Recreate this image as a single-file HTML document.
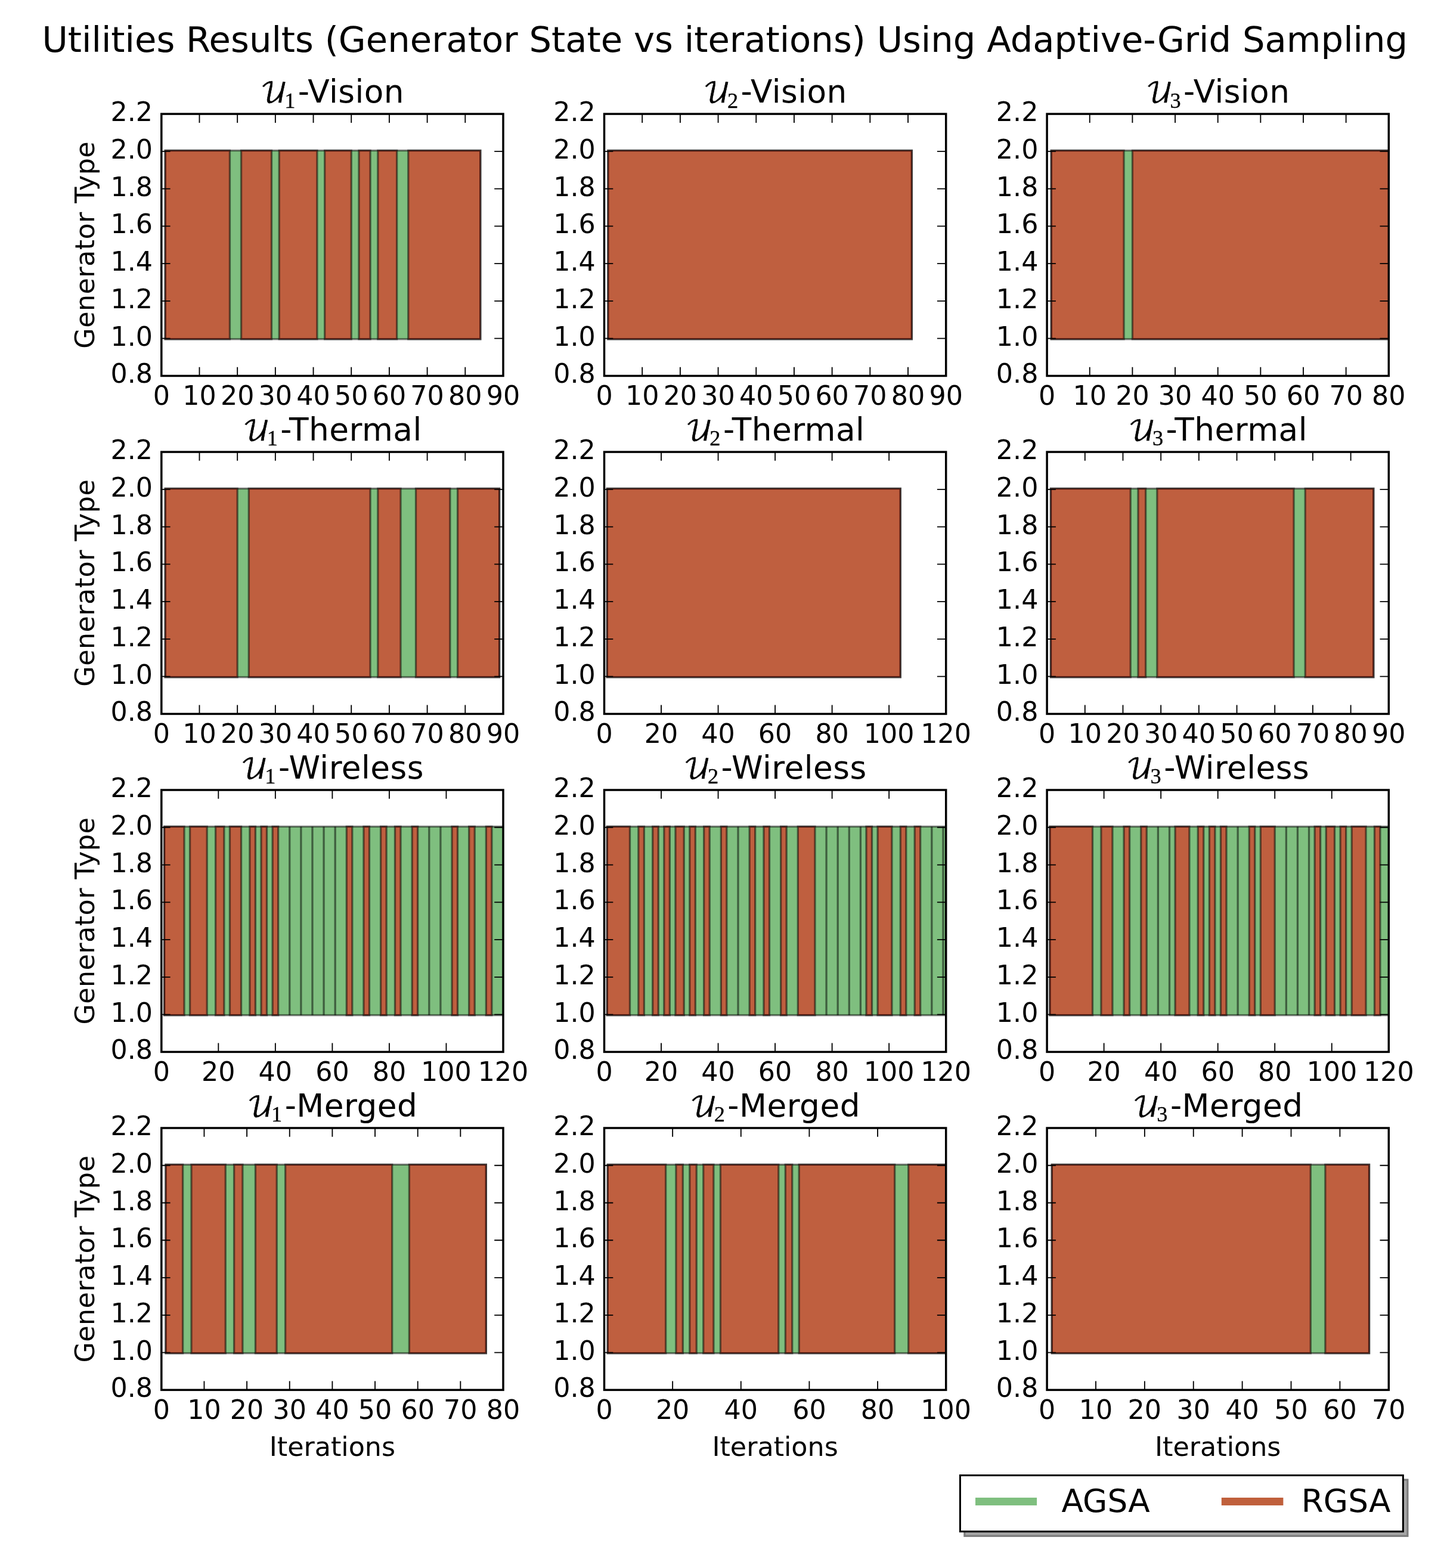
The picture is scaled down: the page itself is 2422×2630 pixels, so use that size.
<!DOCTYPE html>
<html lang="en"><head><meta charset="utf-8">
<title>Utilities Results (Generator State vs iterations) Using Adaptive-Grid Sampling</title>
<style>
html,body{margin:0;padding:0;background:#fff;}
body{width:2422px;height:2630px;overflow:hidden;}
svg{display:block;}
text{font-family:"DejaVu Sans","Liberation Sans",sans-serif;fill:#000;}
.tk{font-size:44.4px;}
.tt{font-size:53.3px;letter-spacing:0.45px;}
.xl{font-size:44.4px;text-anchor:middle;}
.yl{font-size:44.4px;text-anchor:middle;letter-spacing:0.45px;}
.yt{text-anchor:end;}
.xt{text-anchor:middle;}
.sup{font-size:59.22px;text-anchor:middle;}
.lg{font-size:53.3px;}
.cal{font-family:"DejaVu Math TeX Gyre","DejaVu Serif","Liberation Serif",serif;font-size:46px;letter-spacing:0;stroke:#000;stroke-width:.6px;}
.sub{font-family:"Liberation Serif","DejaVu Serif",serif;font-size:36.3px;letter-spacing:0;stroke:#000;stroke-width:.35px;}
.g{fill:#008000;fill-opacity:.5;stroke:#000;stroke-opacity:.5;stroke-width:3.3;stroke-linejoin:miter;}
.r{fill:#ff0000;fill-opacity:.5;stroke:#000;stroke-opacity:.5;stroke-width:3.3;stroke-linejoin:miter;}
.ax{fill:none;stroke:#000;stroke-width:3.5;}
.ti{stroke:#000;stroke-width:1.85;fill:none;}
</style></head><body>
<svg width="2422" height="2630" viewBox="0 0 2422 2630">
<rect x="0" y="0" width="2422" height="2630" fill="#fff"/>
<text class="sup" x="1215.8" y="86.5">Utilities Results (Generator State vs iterations) Using Adaptive-Grid Sampling</text>
<g id="ax0">
<clipPath id="c0"><rect x="270.8" y="191.1" width="573.2" height="439.35"/></clipPath>
<g clip-path="url(#c0)">
<rect class="g" x="277.17" y="252.5" width="528.62" height="316.32"/>
<rect class="r" x="277.17" y="252.5" width="108.27" height="316.32"/>
<rect class="r" x="404.55" y="252.5" width="50.95" height="316.32"/>
<rect class="r" x="468.24" y="252.5" width="63.69" height="316.32"/>
<rect class="r" x="544.66" y="252.5" width="44.58" height="316.32"/>
<rect class="r" x="601.98" y="252.5" width="19.11" height="316.32"/>
<rect class="r" x="633.83" y="252.5" width="31.84" height="316.32"/>
<rect class="r" x="684.78" y="252.5" width="121.01" height="316.32"/>
</g>
<path class="ti" d="M334.49 630.45v-14.8M334.49 191.1v14.8M398.18 630.45v-14.8M398.18 191.1v14.8M461.87 630.45v-14.8M461.87 191.1v14.8M525.56 630.45v-14.8M525.56 191.1v14.8M589.24 630.45v-14.8M589.24 191.1v14.8M652.93 630.45v-14.8M652.93 191.1v14.8M716.62 630.45v-14.8M716.62 191.1v14.8M780.31 630.45v-14.8M780.31 191.1v14.8M270.8 567.69h14.8M844 567.69h-14.8M270.8 504.92h14.8M844 504.92h-14.8M270.8 442.16h14.8M844 442.16h-14.8M270.8 379.39h14.8M844 379.39h-14.8M270.8 316.63h14.8M844 316.63h-14.8M270.8 253.86h14.8M844 253.86h-14.8"/>
<rect class="ax" x="270.8" y="191.1" width="573.2" height="439.35"/>
<text class="tk xt" x="270.8" y="679.2">0</text>
<text class="tk xt" x="334.49" y="679.2">10</text>
<text class="tk xt" x="398.18" y="679.2">20</text>
<text class="tk xt" x="461.87" y="679.2">30</text>
<text class="tk xt" x="525.56" y="679.2">40</text>
<text class="tk xt" x="589.24" y="679.2">50</text>
<text class="tk xt" x="652.93" y="679.2">60</text>
<text class="tk xt" x="716.62" y="679.2">70</text>
<text class="tk xt" x="780.31" y="679.2">80</text>
<text class="tk xt" x="844" y="679.2">90</text>
<text class="tk yt" x="256.1" y="642.45">0.8</text>
<text class="tk yt" x="256.1" y="579.69">1.0</text>
<text class="tk yt" x="256.1" y="516.92">1.2</text>
<text class="tk yt" x="256.1" y="454.16">1.4</text>
<text class="tk yt" x="256.1" y="391.39">1.6</text>
<text class="tk yt" x="256.1" y="328.63">1.8</text>
<text class="tk yt" x="256.1" y="265.86">2.0</text>
<text class="tk yt" x="256.1" y="203.1">2.2</text>
<text class="tt" y="171.9"><tspan class="cal" x="436.69">𝒰</tspan><tspan class="sub" x="477.19" y="180.5">1</tspan><tspan x="499.79" y="171.9">-Vision</tspan></text>
<text class="yl" transform="translate(157.8 410.78) rotate(-90)">Generator Type</text>
</g>
<g id="ax1">
<clipPath id="c1"><rect x="1013.5" y="191.1" width="573.2" height="439.35"/></clipPath>
<g clip-path="url(#c1)">
<rect class="g" x="1019.87" y="252.5" width="509.51" height="316.32"/>
<rect class="r" x="1019.87" y="252.5" width="509.51" height="316.32"/>
</g>
<path class="ti" d="M1077.19 630.45v-14.8M1077.19 191.1v14.8M1140.88 630.45v-14.8M1140.88 191.1v14.8M1204.57 630.45v-14.8M1204.57 191.1v14.8M1268.26 630.45v-14.8M1268.26 191.1v14.8M1331.94 630.45v-14.8M1331.94 191.1v14.8M1395.63 630.45v-14.8M1395.63 191.1v14.8M1459.32 630.45v-14.8M1459.32 191.1v14.8M1523.01 630.45v-14.8M1523.01 191.1v14.8M1013.5 567.69h14.8M1586.7 567.69h-14.8M1013.5 504.92h14.8M1586.7 504.92h-14.8M1013.5 442.16h14.8M1586.7 442.16h-14.8M1013.5 379.39h14.8M1586.7 379.39h-14.8M1013.5 316.63h14.8M1586.7 316.63h-14.8M1013.5 253.86h14.8M1586.7 253.86h-14.8"/>
<rect class="ax" x="1013.5" y="191.1" width="573.2" height="439.35"/>
<text class="tk xt" x="1013.5" y="679.2">0</text>
<text class="tk xt" x="1077.19" y="679.2">10</text>
<text class="tk xt" x="1140.88" y="679.2">20</text>
<text class="tk xt" x="1204.57" y="679.2">30</text>
<text class="tk xt" x="1268.26" y="679.2">40</text>
<text class="tk xt" x="1331.94" y="679.2">50</text>
<text class="tk xt" x="1395.63" y="679.2">60</text>
<text class="tk xt" x="1459.32" y="679.2">70</text>
<text class="tk xt" x="1523.01" y="679.2">80</text>
<text class="tk xt" x="1586.7" y="679.2">90</text>
<text class="tk yt" x="998.8" y="642.45">0.8</text>
<text class="tk yt" x="998.8" y="579.69">1.0</text>
<text class="tk yt" x="998.8" y="516.92">1.2</text>
<text class="tk yt" x="998.8" y="454.16">1.4</text>
<text class="tk yt" x="998.8" y="391.39">1.6</text>
<text class="tk yt" x="998.8" y="328.63">1.8</text>
<text class="tk yt" x="998.8" y="265.86">2.0</text>
<text class="tk yt" x="998.8" y="203.1">2.2</text>
<text class="tt" y="171.9"><tspan class="cal" x="1179.39">𝒰</tspan><tspan class="sub" x="1219.89" y="180.5">2</tspan><tspan x="1242.49" y="171.9">-Vision</tspan></text>
</g>
<g id="ax2">
<clipPath id="c2"><rect x="1756.1" y="191.1" width="573.2" height="439.35"/></clipPath>
<g clip-path="url(#c2)">
<rect class="g" x="1763.26" y="252.5" width="709.34" height="316.32"/>
<rect class="r" x="1763.26" y="252.5" width="121.81" height="316.32"/>
<rect class="r" x="1899.4" y="252.5" width="573.2" height="316.32"/>
</g>
<path class="ti" d="M1827.75 630.45v-14.8M1827.75 191.1v14.8M1899.4 630.45v-14.8M1899.4 191.1v14.8M1971.05 630.45v-14.8M1971.05 191.1v14.8M2042.7 630.45v-14.8M2042.7 191.1v14.8M2114.35 630.45v-14.8M2114.35 191.1v14.8M2186 630.45v-14.8M2186 191.1v14.8M2257.65 630.45v-14.8M2257.65 191.1v14.8M1756.1 567.69h14.8M2329.3 567.69h-14.8M1756.1 504.92h14.8M2329.3 504.92h-14.8M1756.1 442.16h14.8M2329.3 442.16h-14.8M1756.1 379.39h14.8M2329.3 379.39h-14.8M1756.1 316.63h14.8M2329.3 316.63h-14.8M1756.1 253.86h14.8M2329.3 253.86h-14.8"/>
<rect class="ax" x="1756.1" y="191.1" width="573.2" height="439.35"/>
<text class="tk xt" x="1756.1" y="679.2">0</text>
<text class="tk xt" x="1827.75" y="679.2">10</text>
<text class="tk xt" x="1899.4" y="679.2">20</text>
<text class="tk xt" x="1971.05" y="679.2">30</text>
<text class="tk xt" x="2042.7" y="679.2">40</text>
<text class="tk xt" x="2114.35" y="679.2">50</text>
<text class="tk xt" x="2186" y="679.2">60</text>
<text class="tk xt" x="2257.65" y="679.2">70</text>
<text class="tk xt" x="2329.3" y="679.2">80</text>
<text class="tk yt" x="1741.4" y="642.45">0.8</text>
<text class="tk yt" x="1741.4" y="579.69">1.0</text>
<text class="tk yt" x="1741.4" y="516.92">1.2</text>
<text class="tk yt" x="1741.4" y="454.16">1.4</text>
<text class="tk yt" x="1741.4" y="391.39">1.6</text>
<text class="tk yt" x="1741.4" y="328.63">1.8</text>
<text class="tk yt" x="1741.4" y="265.86">2.0</text>
<text class="tk yt" x="1741.4" y="203.1">2.2</text>
<text class="tt" y="171.9"><tspan class="cal" x="1921.99">𝒰</tspan><tspan class="sub" x="1962.49" y="180.5">3</tspan><tspan x="1985.09" y="171.9">-Vision</tspan></text>
</g>
<g id="ax3">
<clipPath id="c3"><rect x="270.8" y="758.07" width="573.2" height="439.35"/></clipPath>
<g clip-path="url(#c3)">
<rect class="g" x="277.17" y="819.47" width="560.46" height="316.32"/>
<rect class="r" x="277.17" y="819.47" width="121.01" height="316.32"/>
<rect class="r" x="417.28" y="819.47" width="203.8" height="316.32"/>
<rect class="r" x="633.83" y="819.47" width="38.21" height="316.32"/>
<rect class="r" x="697.52" y="819.47" width="57.32" height="316.32"/>
<rect class="r" x="767.57" y="819.47" width="70.06" height="316.32"/>
</g>
<path class="ti" d="M334.49 1197.42v-14.8M334.49 758.07v14.8M398.18 1197.42v-14.8M398.18 758.07v14.8M461.87 1197.42v-14.8M461.87 758.07v14.8M525.56 1197.42v-14.8M525.56 758.07v14.8M589.24 1197.42v-14.8M589.24 758.07v14.8M652.93 1197.42v-14.8M652.93 758.07v14.8M716.62 1197.42v-14.8M716.62 758.07v14.8M780.31 1197.42v-14.8M780.31 758.07v14.8M270.8 1134.66h14.8M844 1134.66h-14.8M270.8 1071.89h14.8M844 1071.89h-14.8M270.8 1009.13h14.8M844 1009.13h-14.8M270.8 946.36h14.8M844 946.36h-14.8M270.8 883.6h14.8M844 883.6h-14.8M270.8 820.83h14.8M844 820.83h-14.8"/>
<rect class="ax" x="270.8" y="758.07" width="573.2" height="439.35"/>
<text class="tk xt" x="270.8" y="1246.17">0</text>
<text class="tk xt" x="334.49" y="1246.17">10</text>
<text class="tk xt" x="398.18" y="1246.17">20</text>
<text class="tk xt" x="461.87" y="1246.17">30</text>
<text class="tk xt" x="525.56" y="1246.17">40</text>
<text class="tk xt" x="589.24" y="1246.17">50</text>
<text class="tk xt" x="652.93" y="1246.17">60</text>
<text class="tk xt" x="716.62" y="1246.17">70</text>
<text class="tk xt" x="780.31" y="1246.17">80</text>
<text class="tk xt" x="844" y="1246.17">90</text>
<text class="tk yt" x="256.1" y="1209.42">0.8</text>
<text class="tk yt" x="256.1" y="1146.66">1.0</text>
<text class="tk yt" x="256.1" y="1083.89">1.2</text>
<text class="tk yt" x="256.1" y="1021.13">1.4</text>
<text class="tk yt" x="256.1" y="958.36">1.6</text>
<text class="tk yt" x="256.1" y="895.6">1.8</text>
<text class="tk yt" x="256.1" y="832.83">2.0</text>
<text class="tk yt" x="256.1" y="770.07">2.2</text>
<text class="tt" y="738.87"><tspan class="cal" x="407.13">𝒰</tspan><tspan class="sub" x="447.63" y="747.47">1</tspan><tspan x="470.23" y="738.87">-Thermal</tspan></text>
<text class="yl" transform="translate(157.8 977.75) rotate(-90)">Generator Type</text>
</g>
<g id="ax4">
<clipPath id="c4"><rect x="1013.5" y="758.07" width="573.2" height="439.35"/></clipPath>
<g clip-path="url(#c4)">
<rect class="g" x="1018.28" y="819.47" width="492" height="316.32"/>
<rect class="r" x="1018.28" y="819.47" width="492" height="316.32"/>
</g>
<path class="ti" d="M1109.03 1197.42v-14.8M1109.03 758.07v14.8M1204.57 1197.42v-14.8M1204.57 758.07v14.8M1300.1 1197.42v-14.8M1300.1 758.07v14.8M1395.63 1197.42v-14.8M1395.63 758.07v14.8M1491.17 1197.42v-14.8M1491.17 758.07v14.8M1013.5 1134.66h14.8M1586.7 1134.66h-14.8M1013.5 1071.89h14.8M1586.7 1071.89h-14.8M1013.5 1009.13h14.8M1586.7 1009.13h-14.8M1013.5 946.36h14.8M1586.7 946.36h-14.8M1013.5 883.6h14.8M1586.7 883.6h-14.8M1013.5 820.83h14.8M1586.7 820.83h-14.8"/>
<rect class="ax" x="1013.5" y="758.07" width="573.2" height="439.35"/>
<text class="tk xt" x="1013.5" y="1246.17">0</text>
<text class="tk xt" x="1109.03" y="1246.17">20</text>
<text class="tk xt" x="1204.57" y="1246.17">40</text>
<text class="tk xt" x="1300.1" y="1246.17">60</text>
<text class="tk xt" x="1395.63" y="1246.17">80</text>
<text class="tk xt" x="1491.17" y="1246.17">100</text>
<text class="tk xt" x="1586.7" y="1246.17">120</text>
<text class="tk yt" x="998.8" y="1209.42">0.8</text>
<text class="tk yt" x="998.8" y="1146.66">1.0</text>
<text class="tk yt" x="998.8" y="1083.89">1.2</text>
<text class="tk yt" x="998.8" y="1021.13">1.4</text>
<text class="tk yt" x="998.8" y="958.36">1.6</text>
<text class="tk yt" x="998.8" y="895.6">1.8</text>
<text class="tk yt" x="998.8" y="832.83">2.0</text>
<text class="tk yt" x="998.8" y="770.07">2.2</text>
<text class="tt" y="738.87"><tspan class="cal" x="1149.83">𝒰</tspan><tspan class="sub" x="1190.33" y="747.47">2</tspan><tspan x="1212.93" y="738.87">-Thermal</tspan></text>
</g>
<g id="ax5">
<clipPath id="c5"><rect x="1756.1" y="758.07" width="573.2" height="439.35"/></clipPath>
<g clip-path="url(#c5)">
<rect class="g" x="1762.47" y="819.47" width="541.36" height="316.32"/>
<rect class="r" x="1762.47" y="819.47" width="133.75" height="316.32"/>
<rect class="r" x="1908.95" y="819.47" width="12.74" height="316.32"/>
<rect class="r" x="1940.8" y="819.47" width="229.28" height="316.32"/>
<rect class="r" x="2189.18" y="819.47" width="114.64" height="316.32"/>
</g>
<path class="ti" d="M1819.79 1197.42v-14.8M1819.79 758.07v14.8M1883.48 1197.42v-14.8M1883.48 758.07v14.8M1947.17 1197.42v-14.8M1947.17 758.07v14.8M2010.86 1197.42v-14.8M2010.86 758.07v14.8M2074.54 1197.42v-14.8M2074.54 758.07v14.8M2138.23 1197.42v-14.8M2138.23 758.07v14.8M2201.92 1197.42v-14.8M2201.92 758.07v14.8M2265.61 1197.42v-14.8M2265.61 758.07v14.8M1756.1 1134.66h14.8M2329.3 1134.66h-14.8M1756.1 1071.89h14.8M2329.3 1071.89h-14.8M1756.1 1009.13h14.8M2329.3 1009.13h-14.8M1756.1 946.36h14.8M2329.3 946.36h-14.8M1756.1 883.6h14.8M2329.3 883.6h-14.8M1756.1 820.83h14.8M2329.3 820.83h-14.8"/>
<rect class="ax" x="1756.1" y="758.07" width="573.2" height="439.35"/>
<text class="tk xt" x="1756.1" y="1246.17">0</text>
<text class="tk xt" x="1819.79" y="1246.17">10</text>
<text class="tk xt" x="1883.48" y="1246.17">20</text>
<text class="tk xt" x="1947.17" y="1246.17">30</text>
<text class="tk xt" x="2010.86" y="1246.17">40</text>
<text class="tk xt" x="2074.54" y="1246.17">50</text>
<text class="tk xt" x="2138.23" y="1246.17">60</text>
<text class="tk xt" x="2201.92" y="1246.17">70</text>
<text class="tk xt" x="2265.61" y="1246.17">80</text>
<text class="tk xt" x="2329.3" y="1246.17">90</text>
<text class="tk yt" x="1741.4" y="1209.42">0.8</text>
<text class="tk yt" x="1741.4" y="1146.66">1.0</text>
<text class="tk yt" x="1741.4" y="1083.89">1.2</text>
<text class="tk yt" x="1741.4" y="1021.13">1.4</text>
<text class="tk yt" x="1741.4" y="958.36">1.6</text>
<text class="tk yt" x="1741.4" y="895.6">1.8</text>
<text class="tk yt" x="1741.4" y="832.83">2.0</text>
<text class="tk yt" x="1741.4" y="770.07">2.2</text>
<text class="tt" y="738.87"><tspan class="cal" x="1892.43">𝒰</tspan><tspan class="sub" x="1932.93" y="747.47">3</tspan><tspan x="1955.53" y="738.87">-Thermal</tspan></text>
</g>
<g id="ax6">
<clipPath id="c6"><rect x="270.8" y="1325.03" width="573.2" height="439.35"/></clipPath>
<g clip-path="url(#c6)">
<rect class="g" x="275.58" y="1386.43" width="663.96" height="316.32"/>
<rect class="r" x="275.58" y="1386.43" width="33.44" height="316.32"/>
<rect class="r" x="318.57" y="1386.43" width="28.66" height="316.32"/>
<rect class="r" x="361.56" y="1386.43" width="14.33" height="316.32"/>
<rect class="r" x="385.44" y="1386.43" width="19.11" height="316.32"/>
<rect class="r" x="418.88" y="1386.43" width="9.55" height="316.32"/>
<rect class="r" x="437.98" y="1386.43" width="9.55" height="316.32"/>
<rect class="r" x="457.09" y="1386.43" width="9.55" height="316.32"/>
<path class="r" d="M485.75 1386.43V1702.76"/>
<path class="r" d="M504.86 1386.43V1702.76"/>
<path class="r" d="M523.96 1386.43V1702.76"/>
<path class="r" d="M543.07 1386.43V1702.76"/>
<path class="r" d="M562.18 1386.43V1702.76"/>
<rect class="r" x="581.28" y="1386.43" width="9.55" height="316.32"/>
<rect class="r" x="609.94" y="1386.43" width="9.55" height="316.32"/>
<rect class="r" x="638.6" y="1386.43" width="9.55" height="316.32"/>
<rect class="r" x="662.49" y="1386.43" width="9.55" height="316.32"/>
<rect class="r" x="691.15" y="1386.43" width="9.55" height="316.32"/>
<path class="r" d="M719.81 1386.43V1702.76"/>
<path class="r" d="M738.91 1386.43V1702.76"/>
<rect class="r" x="758.02" y="1386.43" width="9.55" height="316.32"/>
<rect class="r" x="786.68" y="1386.43" width="9.55" height="316.32"/>
<rect class="r" x="815.34" y="1386.43" width="9.55" height="316.32"/>
</g>
<path class="ti" d="M366.33 1764.38v-14.8M366.33 1325.03v14.8M461.87 1764.38v-14.8M461.87 1325.03v14.8M557.4 1764.38v-14.8M557.4 1325.03v14.8M652.93 1764.38v-14.8M652.93 1325.03v14.8M748.47 1764.38v-14.8M748.47 1325.03v14.8M270.8 1701.62h14.8M844 1701.62h-14.8M270.8 1638.85h14.8M844 1638.85h-14.8M270.8 1576.09h14.8M844 1576.09h-14.8M270.8 1513.32h14.8M844 1513.32h-14.8M270.8 1450.56h14.8M844 1450.56h-14.8M270.8 1387.79h14.8M844 1387.79h-14.8"/>
<rect class="ax" x="270.8" y="1325.03" width="573.2" height="439.35"/>
<text class="tk xt" x="270.8" y="1813.13">0</text>
<text class="tk xt" x="366.33" y="1813.13">20</text>
<text class="tk xt" x="461.87" y="1813.13">40</text>
<text class="tk xt" x="557.4" y="1813.13">60</text>
<text class="tk xt" x="652.93" y="1813.13">80</text>
<text class="tk xt" x="748.47" y="1813.13">100</text>
<text class="tk xt" x="844" y="1813.13">120</text>
<text class="tk yt" x="256.1" y="1776.38">0.8</text>
<text class="tk yt" x="256.1" y="1713.62">1.0</text>
<text class="tk yt" x="256.1" y="1650.85">1.2</text>
<text class="tk yt" x="256.1" y="1588.09">1.4</text>
<text class="tk yt" x="256.1" y="1525.32">1.6</text>
<text class="tk yt" x="256.1" y="1462.56">1.8</text>
<text class="tk yt" x="256.1" y="1399.79">2.0</text>
<text class="tk yt" x="256.1" y="1337.03">2.2</text>
<text class="tt" y="1305.83"><tspan class="cal" x="403.78">𝒰</tspan><tspan class="sub" x="444.28" y="1314.43">1</tspan><tspan x="466.88" y="1305.83">-Wireless</tspan></text>
<text class="yl" transform="translate(157.8 1544.7) rotate(-90)">Generator Type</text>
</g>
<g id="ax7">
<clipPath id="c7"><rect x="1013.5" y="1325.03" width="573.2" height="439.35"/></clipPath>
<g clip-path="url(#c7)">
<rect class="g" x="1018.28" y="1386.43" width="663.96" height="316.32"/>
<rect class="r" x="1018.28" y="1386.43" width="38.21" height="316.32"/>
<rect class="r" x="1070.82" y="1386.43" width="9.55" height="316.32"/>
<rect class="r" x="1094.7" y="1386.43" width="9.55" height="316.32"/>
<rect class="r" x="1113.81" y="1386.43" width="9.55" height="316.32"/>
<rect class="r" x="1132.92" y="1386.43" width="14.33" height="316.32"/>
<rect class="r" x="1156.8" y="1386.43" width="9.55" height="316.32"/>
<rect class="r" x="1180.68" y="1386.43" width="9.55" height="316.32"/>
<rect class="r" x="1209.34" y="1386.43" width="9.55" height="316.32"/>
<path class="r" d="M1238 1386.43V1702.76"/>
<rect class="r" x="1257.11" y="1386.43" width="9.55" height="316.32"/>
<rect class="r" x="1280.99" y="1386.43" width="9.55" height="316.32"/>
<rect class="r" x="1309.65" y="1386.43" width="9.55" height="316.32"/>
<rect class="r" x="1338.31" y="1386.43" width="28.66" height="316.32"/>
<path class="r" d="M1386.08 1386.43V1702.76"/>
<path class="r" d="M1405.19 1386.43V1702.76"/>
<path class="r" d="M1424.29 1386.43V1702.76"/>
<path class="r" d="M1443.4 1386.43V1702.76"/>
<rect class="r" x="1452.95" y="1386.43" width="9.55" height="316.32"/>
<rect class="r" x="1472.06" y="1386.43" width="23.88" height="316.32"/>
<rect class="r" x="1510.27" y="1386.43" width="9.55" height="316.32"/>
<rect class="r" x="1534.16" y="1386.43" width="9.55" height="316.32"/>
<path class="r" d="M1562.82 1386.43V1702.76"/>
<path class="r" d="M1581.92 1386.43V1702.76"/>
</g>
<path class="ti" d="M1109.03 1764.38v-14.8M1109.03 1325.03v14.8M1204.57 1764.38v-14.8M1204.57 1325.03v14.8M1300.1 1764.38v-14.8M1300.1 1325.03v14.8M1395.63 1764.38v-14.8M1395.63 1325.03v14.8M1491.17 1764.38v-14.8M1491.17 1325.03v14.8M1013.5 1701.62h14.8M1586.7 1701.62h-14.8M1013.5 1638.85h14.8M1586.7 1638.85h-14.8M1013.5 1576.09h14.8M1586.7 1576.09h-14.8M1013.5 1513.32h14.8M1586.7 1513.32h-14.8M1013.5 1450.56h14.8M1586.7 1450.56h-14.8M1013.5 1387.79h14.8M1586.7 1387.79h-14.8"/>
<rect class="ax" x="1013.5" y="1325.03" width="573.2" height="439.35"/>
<text class="tk xt" x="1013.5" y="1813.13">0</text>
<text class="tk xt" x="1109.03" y="1813.13">20</text>
<text class="tk xt" x="1204.57" y="1813.13">40</text>
<text class="tk xt" x="1300.1" y="1813.13">60</text>
<text class="tk xt" x="1395.63" y="1813.13">80</text>
<text class="tk xt" x="1491.17" y="1813.13">100</text>
<text class="tk xt" x="1586.7" y="1813.13">120</text>
<text class="tk yt" x="998.8" y="1776.38">0.8</text>
<text class="tk yt" x="998.8" y="1713.62">1.0</text>
<text class="tk yt" x="998.8" y="1650.85">1.2</text>
<text class="tk yt" x="998.8" y="1588.09">1.4</text>
<text class="tk yt" x="998.8" y="1525.32">1.6</text>
<text class="tk yt" x="998.8" y="1462.56">1.8</text>
<text class="tk yt" x="998.8" y="1399.79">2.0</text>
<text class="tk yt" x="998.8" y="1337.03">2.2</text>
<text class="tt" y="1305.83"><tspan class="cal" x="1146.48">𝒰</tspan><tspan class="sub" x="1186.98" y="1314.43">2</tspan><tspan x="1209.58" y="1305.83">-Wireless</tspan></text>
</g>
<g id="ax8">
<clipPath id="c8"><rect x="1756.1" y="1325.03" width="573.2" height="439.35"/></clipPath>
<g clip-path="url(#c8)">
<rect class="g" x="1760.88" y="1386.43" width="663.96" height="316.32"/>
<rect class="r" x="1760.88" y="1386.43" width="71.65" height="316.32"/>
<rect class="r" x="1846.86" y="1386.43" width="19.11" height="316.32"/>
<rect class="r" x="1885.07" y="1386.43" width="9.55" height="316.32"/>
<rect class="r" x="1913.73" y="1386.43" width="9.55" height="316.32"/>
<path class="r" d="M1942.39 1386.43V1702.76"/>
<path class="r" d="M1961.5 1386.43V1702.76"/>
<rect class="r" x="1971.05" y="1386.43" width="23.88" height="316.32"/>
<rect class="r" x="2009.26" y="1386.43" width="9.55" height="316.32"/>
<rect class="r" x="2028.37" y="1386.43" width="9.55" height="316.32"/>
<rect class="r" x="2047.48" y="1386.43" width="9.55" height="316.32"/>
<path class="r" d="M2076.14 1386.43V1702.76"/>
<rect class="r" x="2095.24" y="1386.43" width="9.55" height="316.32"/>
<rect class="r" x="2114.35" y="1386.43" width="23.88" height="316.32"/>
<path class="r" d="M2157.34 1386.43V1702.76"/>
<path class="r" d="M2176.45 1386.43V1702.76"/>
<path class="r" d="M2195.55 1386.43V1702.76"/>
<rect class="r" x="2205.11" y="1386.43" width="9.55" height="316.32"/>
<rect class="r" x="2224.21" y="1386.43" width="14.33" height="316.32"/>
<rect class="r" x="2248.1" y="1386.43" width="9.55" height="316.32"/>
<rect class="r" x="2267.2" y="1386.43" width="23.88" height="316.32"/>
<rect class="r" x="2305.42" y="1386.43" width="9.55" height="316.32"/>
</g>
<path class="ti" d="M1851.63 1764.38v-14.8M1851.63 1325.03v14.8M1947.17 1764.38v-14.8M1947.17 1325.03v14.8M2042.7 1764.38v-14.8M2042.7 1325.03v14.8M2138.23 1764.38v-14.8M2138.23 1325.03v14.8M2233.77 1764.38v-14.8M2233.77 1325.03v14.8M1756.1 1701.62h14.8M2329.3 1701.62h-14.8M1756.1 1638.85h14.8M2329.3 1638.85h-14.8M1756.1 1576.09h14.8M2329.3 1576.09h-14.8M1756.1 1513.32h14.8M2329.3 1513.32h-14.8M1756.1 1450.56h14.8M2329.3 1450.56h-14.8M1756.1 1387.79h14.8M2329.3 1387.79h-14.8"/>
<rect class="ax" x="1756.1" y="1325.03" width="573.2" height="439.35"/>
<text class="tk xt" x="1756.1" y="1813.13">0</text>
<text class="tk xt" x="1851.63" y="1813.13">20</text>
<text class="tk xt" x="1947.17" y="1813.13">40</text>
<text class="tk xt" x="2042.7" y="1813.13">60</text>
<text class="tk xt" x="2138.23" y="1813.13">80</text>
<text class="tk xt" x="2233.77" y="1813.13">100</text>
<text class="tk xt" x="2329.3" y="1813.13">120</text>
<text class="tk yt" x="1741.4" y="1776.38">0.8</text>
<text class="tk yt" x="1741.4" y="1713.62">1.0</text>
<text class="tk yt" x="1741.4" y="1650.85">1.2</text>
<text class="tk yt" x="1741.4" y="1588.09">1.4</text>
<text class="tk yt" x="1741.4" y="1525.32">1.6</text>
<text class="tk yt" x="1741.4" y="1462.56">1.8</text>
<text class="tk yt" x="1741.4" y="1399.79">2.0</text>
<text class="tk yt" x="1741.4" y="1337.03">2.2</text>
<text class="tt" y="1305.83"><tspan class="cal" x="1889.08">𝒰</tspan><tspan class="sub" x="1929.58" y="1314.43">3</tspan><tspan x="1952.18" y="1305.83">-Wireless</tspan></text>
</g>
<g id="ax9">
<clipPath id="c9"><rect x="270.8" y="1892" width="573.2" height="439.35"/></clipPath>
<g clip-path="url(#c9)">
<rect class="g" x="277.97" y="1953.4" width="537.38" height="316.32"/>
<rect class="r" x="277.97" y="1953.4" width="28.66" height="316.32"/>
<rect class="r" x="320.96" y="1953.4" width="57.32" height="316.32"/>
<rect class="r" x="392.61" y="1953.4" width="14.33" height="316.32"/>
<rect class="r" x="428.43" y="1953.4" width="35.82" height="316.32"/>
<rect class="r" x="478.59" y="1953.4" width="179.12" height="316.32"/>
<rect class="r" x="686.37" y="1953.4" width="128.97" height="316.32"/>
</g>
<path class="ti" d="M342.45 2331.35v-14.8M342.45 1892v14.8M414.1 2331.35v-14.8M414.1 1892v14.8M485.75 2331.35v-14.8M485.75 1892v14.8M557.4 2331.35v-14.8M557.4 1892v14.8M629.05 2331.35v-14.8M629.05 1892v14.8M700.7 2331.35v-14.8M700.7 1892v14.8M772.35 2331.35v-14.8M772.35 1892v14.8M270.8 2268.59h14.8M844 2268.59h-14.8M270.8 2205.82h14.8M844 2205.82h-14.8M270.8 2143.06h14.8M844 2143.06h-14.8M270.8 2080.29h14.8M844 2080.29h-14.8M270.8 2017.53h14.8M844 2017.53h-14.8M270.8 1954.76h14.8M844 1954.76h-14.8"/>
<rect class="ax" x="270.8" y="1892" width="573.2" height="439.35"/>
<text class="tk xt" x="270.8" y="2380.1">0</text>
<text class="tk xt" x="342.45" y="2380.1">10</text>
<text class="tk xt" x="414.1" y="2380.1">20</text>
<text class="tk xt" x="485.75" y="2380.1">30</text>
<text class="tk xt" x="557.4" y="2380.1">40</text>
<text class="tk xt" x="629.05" y="2380.1">50</text>
<text class="tk xt" x="700.7" y="2380.1">60</text>
<text class="tk xt" x="772.35" y="2380.1">70</text>
<text class="tk xt" x="844" y="2380.1">80</text>
<text class="tk yt" x="256.1" y="2343.35">0.8</text>
<text class="tk yt" x="256.1" y="2280.59">1.0</text>
<text class="tk yt" x="256.1" y="2217.82">1.2</text>
<text class="tk yt" x="256.1" y="2155.06">1.4</text>
<text class="tk yt" x="256.1" y="2092.29">1.6</text>
<text class="tk yt" x="256.1" y="2029.53">1.8</text>
<text class="tk yt" x="256.1" y="1966.76">2.0</text>
<text class="tk yt" x="256.1" y="1904">2.2</text>
<text class="tt" y="1872.8"><tspan class="cal" x="414.55">𝒰</tspan><tspan class="sub" x="455.05" y="1881.4">1</tspan><tspan x="477.65" y="1872.8">-Merged</tspan></text>
<text class="yl" transform="translate(157.8 2111.68) rotate(-90)">Generator Type</text>
<text class="xl" x="557.4" y="2442.2">Iterations</text>
</g>
<g id="ax10">
<clipPath id="c10"><rect x="1013.5" y="1892" width="573.2" height="439.35"/></clipPath>
<g clip-path="url(#c10)">
<rect class="g" x="1019.23" y="1953.4" width="682.11" height="316.32"/>
<rect class="r" x="1019.23" y="1953.4" width="97.44" height="316.32"/>
<rect class="r" x="1133.87" y="1953.4" width="11.46" height="316.32"/>
<rect class="r" x="1156.8" y="1953.4" width="11.46" height="316.32"/>
<rect class="r" x="1179.73" y="1953.4" width="17.2" height="316.32"/>
<rect class="r" x="1208.39" y="1953.4" width="97.44" height="316.32"/>
<rect class="r" x="1317.3" y="1953.4" width="11.46" height="316.32"/>
<rect class="r" x="1340.22" y="1953.4" width="160.5" height="316.32"/>
<rect class="r" x="1523.65" y="1953.4" width="177.69" height="316.32"/>
</g>
<path class="ti" d="M1128.14 2331.35v-14.8M1128.14 1892v14.8M1242.78 2331.35v-14.8M1242.78 1892v14.8M1357.42 2331.35v-14.8M1357.42 1892v14.8M1472.06 2331.35v-14.8M1472.06 1892v14.8M1013.5 2268.59h14.8M1586.7 2268.59h-14.8M1013.5 2205.82h14.8M1586.7 2205.82h-14.8M1013.5 2143.06h14.8M1586.7 2143.06h-14.8M1013.5 2080.29h14.8M1586.7 2080.29h-14.8M1013.5 2017.53h14.8M1586.7 2017.53h-14.8M1013.5 1954.76h14.8M1586.7 1954.76h-14.8"/>
<rect class="ax" x="1013.5" y="1892" width="573.2" height="439.35"/>
<text class="tk xt" x="1013.5" y="2380.1">0</text>
<text class="tk xt" x="1128.14" y="2380.1">20</text>
<text class="tk xt" x="1242.78" y="2380.1">40</text>
<text class="tk xt" x="1357.42" y="2380.1">60</text>
<text class="tk xt" x="1472.06" y="2380.1">80</text>
<text class="tk xt" x="1586.7" y="2380.1">100</text>
<text class="tk yt" x="998.8" y="2343.35">0.8</text>
<text class="tk yt" x="998.8" y="2280.59">1.0</text>
<text class="tk yt" x="998.8" y="2217.82">1.2</text>
<text class="tk yt" x="998.8" y="2155.06">1.4</text>
<text class="tk yt" x="998.8" y="2092.29">1.6</text>
<text class="tk yt" x="998.8" y="2029.53">1.8</text>
<text class="tk yt" x="998.8" y="1966.76">2.0</text>
<text class="tk yt" x="998.8" y="1904">2.2</text>
<text class="tt" y="1872.8"><tspan class="cal" x="1157.25">𝒰</tspan><tspan class="sub" x="1197.75" y="1881.4">2</tspan><tspan x="1220.35" y="1872.8">-Merged</tspan></text>
<text class="xl" x="1300.1" y="2442.2">Iterations</text>
</g>
<g id="ax11">
<clipPath id="c11"><rect x="1756.1" y="1892" width="573.2" height="439.35"/></clipPath>
<g clip-path="url(#c11)">
<rect class="g" x="1764.29" y="1953.4" width="532.26" height="316.32"/>
<rect class="r" x="1764.29" y="1953.4" width="433.99" height="316.32"/>
<rect class="r" x="2222.85" y="1953.4" width="73.7" height="316.32"/>
</g>
<path class="ti" d="M1837.99 2331.35v-14.8M1837.99 1892v14.8M1919.87 2331.35v-14.8M1919.87 1892v14.8M2001.76 2331.35v-14.8M2001.76 1892v14.8M2083.64 2331.35v-14.8M2083.64 1892v14.8M2165.53 2331.35v-14.8M2165.53 1892v14.8M2247.41 2331.35v-14.8M2247.41 1892v14.8M1756.1 2268.59h14.8M2329.3 2268.59h-14.8M1756.1 2205.82h14.8M2329.3 2205.82h-14.8M1756.1 2143.06h14.8M2329.3 2143.06h-14.8M1756.1 2080.29h14.8M2329.3 2080.29h-14.8M1756.1 2017.53h14.8M2329.3 2017.53h-14.8M1756.1 1954.76h14.8M2329.3 1954.76h-14.8"/>
<rect class="ax" x="1756.1" y="1892" width="573.2" height="439.35"/>
<text class="tk xt" x="1756.1" y="2380.1">0</text>
<text class="tk xt" x="1837.99" y="2380.1">10</text>
<text class="tk xt" x="1919.87" y="2380.1">20</text>
<text class="tk xt" x="2001.76" y="2380.1">30</text>
<text class="tk xt" x="2083.64" y="2380.1">40</text>
<text class="tk xt" x="2165.53" y="2380.1">50</text>
<text class="tk xt" x="2247.41" y="2380.1">60</text>
<text class="tk xt" x="2329.3" y="2380.1">70</text>
<text class="tk yt" x="1741.4" y="2343.35">0.8</text>
<text class="tk yt" x="1741.4" y="2280.59">1.0</text>
<text class="tk yt" x="1741.4" y="2217.82">1.2</text>
<text class="tk yt" x="1741.4" y="2155.06">1.4</text>
<text class="tk yt" x="1741.4" y="2092.29">1.6</text>
<text class="tk yt" x="1741.4" y="2029.53">1.8</text>
<text class="tk yt" x="1741.4" y="1966.76">2.0</text>
<text class="tk yt" x="1741.4" y="1904">2.2</text>
<text class="tt" y="1872.8"><tspan class="cal" x="1899.85">𝒰</tspan><tspan class="sub" x="1940.35" y="1881.4">3</tspan><tspan x="1962.95" y="1872.8">-Merged</tspan></text>
<text class="xl" x="2042.7" y="2442.2">Iterations</text>
</g>
<g id="legend">
<rect x="1616.4" y="2480.6" width="745.95" height="97.2" fill="#a6a6a6"/>
<rect x="1617.9" y="2482.1" width="742.95" height="94.2" fill="none" stroke="#7c7c7c" stroke-width="3"/>
<rect x="1610.4" y="2474.6" width="742.95" height="94.2" fill="#fff" stroke="#000" stroke-width="3"/>
<path d="M1636 2518.5H1739.1" stroke="#7fbf7f" stroke-width="13" fill="none"/>
<path d="M2048.8 2518.5H2152.4" stroke="#c0603c" stroke-width="13" fill="none"/>
<text class="lg" x="1780.6" y="2536.3">AGSA</text>
<text class="lg" x="2182.8" y="2536.3">RGSA</text>
</g>
</svg>
</body></html>
